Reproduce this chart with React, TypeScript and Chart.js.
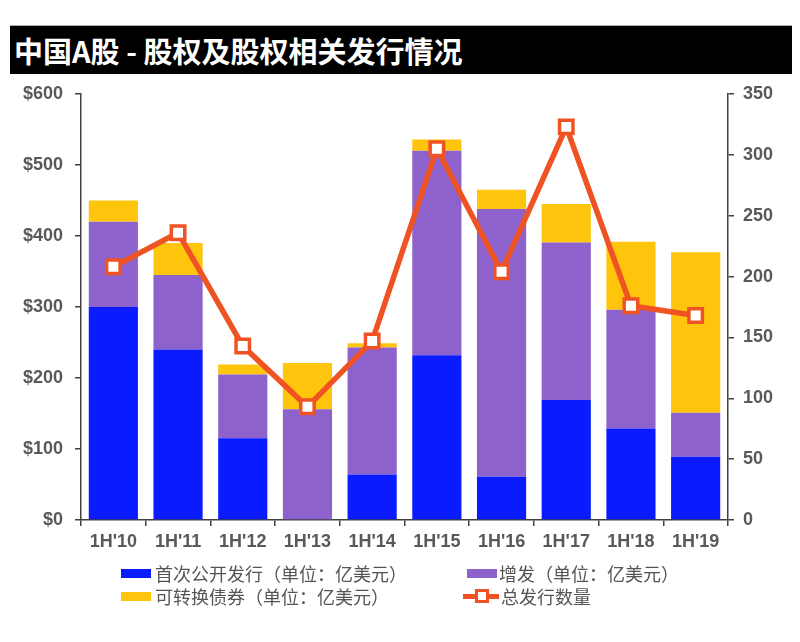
import React, { useEffect, useRef } from "react";
import { Chart, registerables } from "chart.js";

Chart.register(...registerables);

const TITLE = "中国A股 - 股权及股权相关发行情况";
const CATEGORIES = ["1H'10", "1H'11", "1H'12", "1H'13", "1H'14", "1H'15", "1H'16", "1H'17", "1H'18", "1H'19"];
const IPO = [300, 240, 115, 0, 64, 232, 61, 169, 129, 89];
const FOLLOW_ON = [120, 105, 90, 156, 179, 288, 377, 222, 167, 62];
const CONVERTIBLE = [30, 45, 14, 65, 6, 16, 27, 54, 96, 226];
const TOTAL_COUNT = [208, 236, 143, 93, 147, 305, 204, 323, 176, 168];
const LEFT_TICKS = [0, 100, 200, 300, 400, 500, 600];
const RIGHT_TICKS = [0, 50, 100, 150, 200, 250, 300, 350];
const LABELS = ["首次公开发行（单位：亿美元）", "增发（单位：亿美元）", "可转换债券（单位：亿美元）", "总发行数量"];

const BLUE = "#0A1BFF";
const PURPLE = "#8E62CD";
const YELLOW = "#FFC40C";
const ORANGE = "#EF5323";
const AXIS = "#404040";
const TICK_TEXT = "#595959";

export default function App() {
  const ref = useRef<HTMLCanvasElement | null>(null);

  useEffect(() => {
    if (!ref.current) return;
    const tickFont = { family: "Liberation Sans, Arial, sans-serif", size: 18, weight: "bold" as const };
    const chart = new Chart(ref.current, {
      type: "bar",
      data: {
        labels: CATEGORIES,
        datasets: [
          {
            type: "line",
            label: LABELS[3],
            data: TOTAL_COUNT,
            yAxisID: "y1",
            borderColor: ORANGE,
            borderWidth: 5.5,
            pointStyle: "rect",
            pointRadius: 9.5,
            pointBorderWidth: 3.5,
            pointBackgroundColor: "#ffffff",
            pointBorderColor: ORANGE,
            order: 0,
            stack: "line",
          } as any,
          { label: LABELS[0], data: IPO, backgroundColor: BLUE, yAxisID: "y", order: 1, stack: "bars" },
          { label: LABELS[1], data: FOLLOW_ON, backgroundColor: PURPLE, yAxisID: "y", order: 1, stack: "bars" },
          { label: LABELS[2], data: CONVERTIBLE, backgroundColor: YELLOW, yAxisID: "y", order: 1, stack: "bars" },
        ],
      },
      options: {
        responsive: false,
        animation: false,
        layout: { padding: { top: 94, left: 0, right: 0, bottom: 0 } },
        datasets: { bar: { categoryPercentage: 1, barPercentage: 0.76 } },
        plugins: { legend: { display: false }, title: { display: false }, tooltip: { enabled: false } },
        scales: {
          x: {
            stacked: true,
            grid: { display: true, drawOnChartArea: false, drawTicks: true, tickLength: 6, color: AXIS, lineWidth: 1.5 },
            border: { display: true, color: AXIS, width: 1.5 },
            ticks: { color: TICK_TEXT, font: tickFont, padding: 5, maxRotation: 0 },
            afterFit: (s: any) => { s.height = 122; },
          },
          y: {
            stacked: true,
            position: "left",
            min: 0,
            max: 600,
            afterBuildTicks: (s: any) => { s.ticks = LEFT_TICKS.map((v) => ({ value: v })); },
            grid: { display: true, drawOnChartArea: false, drawTicks: true, tickLength: 6, color: AXIS, lineWidth: 1.5 },
            border: { display: true, color: AXIS, width: 1.5 },
            ticks: { color: TICK_TEXT, font: tickFont, padding: 12, callback: (v: any) => "$" + v },
            afterFit: (s: any) => { s.width = 81; },
          },
          y1: {
            position: "right",
            min: 0,
            max: 350,
            afterBuildTicks: (s: any) => { s.ticks = RIGHT_TICKS.map((v) => ({ value: v })); },
            grid: { display: true, drawOnChartArea: false, drawTicks: true, tickLength: 6, color: AXIS, lineWidth: 1.5 },
            border: { display: true, color: AXIS, width: 1.5 },
            ticks: { color: TICK_TEXT, font: tickFont, padding: 9 },
            afterFit: (s: any) => { s.width = 72; },
          },
        },
      },
    });
    return () => chart.destroy();
  }, []);

  const legendText: React.CSSProperties = {
    position: "absolute",
    fontFamily: "'Noto Sans CJK SC', sans-serif",
    fontSize: 18,
    lineHeight: "24px",
    height: 24,
    color: "#555555",
    whiteSpace: "nowrap",
  };
  const swatch = (left: number, cy: number, color: string): React.CSSProperties => ({
    position: "absolute",
    left,
    top: cy - 4.5,
    width: 30,
    height: 9,
    background: color,
  });

  return (
    <div style={{ position: "absolute", left: 0, top: 0, width: 800, height: 642, background: "#fff", overflow: "hidden" }}>
      <canvas ref={ref} width={800} height={642} style={{ position: "absolute", left: 0, top: 0, width: 800, height: 642 }} />
      <div
        style={{
          position: "absolute",
          left: 10,
          top: 25,
          width: 782,
          height: 49,
          background: "#000",
          color: "#fff",
          fontFamily: "'Noto Sans CJK SC', sans-serif",
          fontWeight: 700,
          fontSize: 29,
          lineHeight: "48px",
          paddingLeft: 4,
          boxSizing: "border-box",
          whiteSpace: "nowrap",
          borderTop: "1px solid #aaa",
        }}
      >
        {TITLE}
      </div>
      <div style={swatch(121, 573, BLUE)} />
      <div style={{ ...legendText, left: 155, top: 573 - 12 }}>{LABELS[0]}</div>
      <div style={swatch(467, 573, PURPLE)} />
      <div style={{ ...legendText, left: 499, top: 573 - 12 }}>{LABELS[1]}</div>
      <div style={swatch(121, 596, YELLOW)} />
      <div style={{ ...legendText, left: 155, top: 596 - 12 }}>{LABELS[2]}</div>
      <div style={{ position: "absolute", left: 463, top: 596 - 2.5, width: 36, height: 5, background: ORANGE }} />
      <div
        style={{
          position: "absolute",
          left: 482 - 7,
          top: 596 - 7,
          width: 14,
          height: 14,
          boxSizing: "border-box",
          border: `3px solid ${ORANGE}`,
          background: "#fff",
        }}
      />
      <div style={{ ...legendText, left: 501, top: 596 - 12 }}>{LABELS[3]}</div>
    </div>
  );
}
